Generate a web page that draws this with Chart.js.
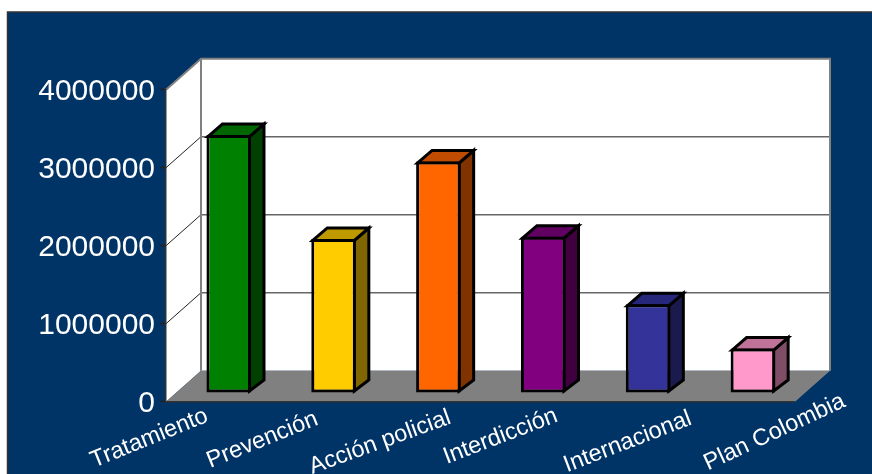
<!DOCTYPE html>
<html><head><meta charset="utf-8">
<style>html,body{margin:0;padding:0;background:#fff;overflow:hidden}canvas{display:block}</style>
<script src="https://cdn.jsdelivr.net/npm/chart.js@4"></script>
</head><body><canvas id="c" width="872" height="474"></canvas>
<script>
const categories = ["Tratamiento","Prevención","Acción policial","Interdicción","Internacional","Plan Colombia"];
const values = [3305000,1974000,2968000,2003000,1135000,568000];
const yTicks = [0,1000000,2000000,3000000,4000000];
const frontColors = ["#008000","#FFCC00","#FF6600","#800080","#333399","#FF99CC"];
const sideColors = ["#004000","#806600","#803300","#400040","#1A1A4D","#804D66"];
const topColors = ["#006600","#BF9900","#BF4C00","#600060","#26267A","#BF7399"];
// Label anchor (baseline, right end) relative to the tick position, and rotation in degrees
const labelShiftX = [-9,-4,24,26,55,104];
const labelBaseY = [421,424,423,421,424,406];
const labelAngle = [-22,-22,-20,-21,-21,-25];

const WALL_DX = 35, WALL_DY = 31;      // depth of the floor
const ROW_DX = 10.3, ROW_DY = 8.8;     // bars stand this far back from the front edge
const BAR_DX = 14.5, BAR_DY_TOP = 12.5, BAR_DY_BASE = 11;
const BAR_LINE = 3;

function poly(ctx, pts, fill, stroke, lw){
  ctx.beginPath();
  pts.forEach((p,i)=> i ? ctx.lineTo(p[0],p[1]) : ctx.moveTo(p[0],p[1]));
  ctx.closePath();
  if(fill){ctx.fillStyle=fill;ctx.fill();}
  if(stroke){ctx.strokeStyle=stroke;ctx.lineWidth=lw;ctx.lineJoin='miter';ctx.stroke();}
}

const scene = {
  id:'scene',
  beforeDraw(chart){
    const {ctx,chartArea:a,scales:{x,y}} = chart;
    ctx.save();
    ctx.fillStyle='#fff'; ctx.fillRect(0,0,chart.width,chart.height);
    ctx.fillStyle='#003366'; ctx.fillRect(7.5,12,chart.width,chart.height);
    ctx.strokeStyle='#333'; ctx.lineWidth=1.5;
    ctx.beginPath(); ctx.moveTo(7.5,chart.height); ctx.lineTo(7.5,12); ctx.lineTo(chart.width,12); ctx.stroke();

    const top=y.getPixelForValue(4000000), bot=y.getPixelForValue(0);
    const L=a.left, R=a.right;
    // back wall and left wall
    poly(ctx,[[L+WALL_DX,top-WALL_DY],[R+WALL_DX,top-WALL_DY],[R+WALL_DX,bot-WALL_DY],[L+WALL_DX,bot-WALL_DY]],'#fff');
    poly(ctx,[[L,top],[L+WALL_DX,top-WALL_DY],[L+WALL_DX,bot-WALL_DY],[L,bot]],'#fff');
    // floor
    poly(ctx,[[L,bot],[L+WALL_DX,bot-WALL_DY],[R+WALL_DX,bot-WALL_DY],[R,bot]],'#808080');
    // gridlines: front-left to back, then along the back wall
    yTicks.forEach(v=>{
      const py=y.getPixelForValue(v);
      if(v>0 && v<4000000){
        ctx.strokeStyle='#222'; ctx.lineWidth=1;
        ctx.beginPath(); ctx.moveTo(L,py); ctx.lineTo(L+WALL_DX,py-WALL_DY); ctx.stroke();
        ctx.strokeStyle='#666'; ctx.lineWidth=1.5;
        ctx.beginPath(); ctx.moveTo(L+WALL_DX,py-WALL_DY); ctx.lineTo(R+WALL_DX,py-WALL_DY); ctx.stroke();
      }
    });
    // wall outlines
    ctx.strokeStyle='#808080'; ctx.lineWidth=2;
    ctx.beginPath();
    ctx.moveTo(L,top); ctx.lineTo(L+WALL_DX,top-WALL_DY); ctx.lineTo(R+WALL_DX,top-WALL_DY); ctx.lineTo(R+WALL_DX,bot-WALL_DY);
    ctx.moveTo(L+WALL_DX,top-WALL_DY); ctx.lineTo(L+WALL_DX,bot-WALL_DY);
    ctx.stroke();
    ctx.strokeStyle='#333'; ctx.lineWidth=1.5;
    ctx.beginPath(); ctx.moveTo(L,bot); ctx.lineTo(R,bot); ctx.stroke();
    ctx.restore();

    // place the rotated category labels; Plan Colombia reaches above the axis box
    x._computeLabelArea=()=>undefined;
    x.getLabelItems().forEach((it,i)=>{
      it.textOffset=0;
      it.options.translation=[x.getPixelForTick(i)+labelShiftX[i],labelBaseY[i]];
      it.options.rotation=labelAngle[i]*Math.PI/180;
      it.options.textAlign='right';
      it.options.textBaseline='alphabetic';
    });
    // value labels sit slightly below their ticks
    y.getLabelItems().forEach((it,i)=>{
      it.options.translation=[it.options.translation[0],y.getPixelForTick(i)+2];
    });
  },
  beforeDatasetsDraw(chart){
    const {ctx} = chart;
    const bars = chart.getDatasetMeta(0).data;
    ctx.save();
    ctx.translate(ROW_DX,-ROW_DY);
    bars.forEach((b,i)=>{
      const p=b.getProps(['x','y','base','width'],true);
      const l=p.x-p.width/2, r=p.x+p.width/2;
      const h=BAR_LINE/2;
      poly(ctx,[[r-h,p.y+h],[r-h+BAR_DX,p.y+h-BAR_DY_TOP],[r-h+BAR_DX,p.base-h-BAR_DY_BASE],[r-h,p.base-h]],sideColors[i],'#000',BAR_LINE);
      poly(ctx,[[l+h,p.y+h],[l+h+BAR_DX,p.y+h-BAR_DY_TOP],[r-h+BAR_DX,p.y+h-BAR_DY_TOP],[r-h,p.y+h]],topColors[i],'#000',BAR_LINE);
    });
    // the library's bars follow on this shifted row
  },
  afterDatasetsDraw(chart){ chart.ctx.restore(); }
};

new Chart(document.getElementById('c'),{
  type:'bar',
  data:{labels:categories,datasets:[{data:values,backgroundColor:frontColors,borderColor:'#000',borderWidth:BAR_LINE,borderSkipped:false,barPercentage:0.425,categoryPercentage:1}]},
  plugins:[scene],
  options:{
    responsive:false,animation:false,devicePixelRatio:1,
    layout:{padding:{top:89.7,right:77,left:0,bottom:0}},
    plugins:{legend:{display:false},title:{display:false},tooltip:{enabled:false}},
    scales:{
      x:{
        grid:{display:false,drawTicks:false},
        border:{display:false},
        afterFit(s){s.height=72.3;},
        ticks:{color:'#fff',autoSkip:false,maxRotation:22,minRotation:22,font:{family:'"Liberation Sans"',size:23.5}}
      },
      y:{
        min:0,max:4000000,
        afterBuildTicks(s){s.ticks=yTicks.map(v=>({value:v}));},
        afterFit(s){s.width=166;},
        grid:{drawOnChartArea:false,tickLength:6,tickColor:'#222',tickWidth:1.5},
        border:{color:'#333',width:1.5},
        ticks:{color:'#fff',padding:5,font:{family:'"Liberation Sans"',size:30},callback:v=>String(v)}
      }
    }
  }
});
</script></body></html>
